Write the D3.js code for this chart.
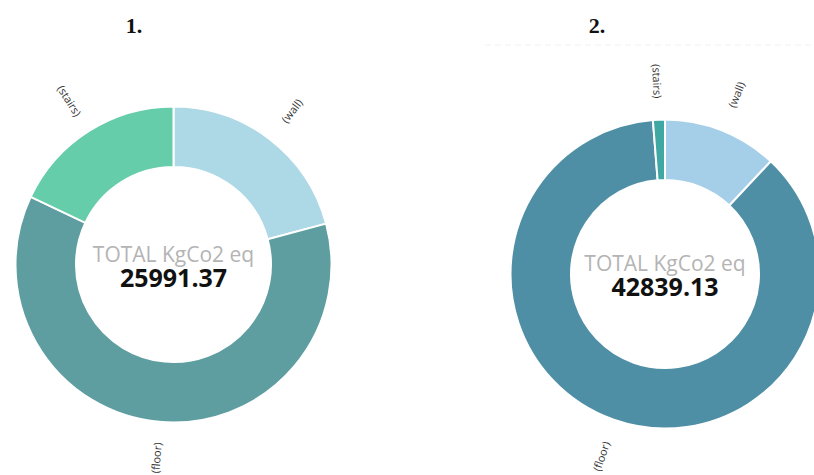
<!DOCTYPE html>
<html>
<head>
<meta charset="utf-8">
<script src="https://cdn.jsdelivr.net/npm/d3@7"></script>
<style>
  html, body { margin: 0; padding: 0; background: #fff; }
  svg { display: block; }
  .title { font-family: "Liberation Serif", "DejaVu Serif", serif; font-weight: bold; font-size: 22px; fill: #111; }
  .slice-label { font-family: "Open Sans", "DejaVu Sans", sans-serif; font-size: 11px; fill: #333; }
  .total-label { font-family: "Open Sans", sans-serif; font-size: 21px; fill: #b4b4b4; }
  .total-value { font-family: "Open Sans", sans-serif; font-weight: bold; font-size: 25px; fill: #111; }
</style>
</head>
<body>
<div id="chart"></div>
<script>
// data
const categories = ["wall", "floor", "stairs"];
const values1 = [5415.2, 15907.4, 4668.77];
const values2 = [5141.0, 37163.13, 535.0];
const totals = ["25991.37", "42839.13"];
const titles = ["1.", "2."];
const totalText = "TOTAL KgCo2 eq";

const colors1 = ["#add8e6", "#5f9ea0", "#66cdaa"];
const colors2 = ["#a5cfe8", "#4f8fa6", "#3fa8a2"];

const width = 814;
const height = 475;

const svg = d3.select("#chart").append("svg")
  .attr("width", width)
  .attr("height", height);

// faint screenshot panel line over chart 2
svg.append("line")
  .attr("x1", 485).attr("x2", width)
  .attr("y1", 45).attr("y2", 45)
  .attr("stroke", "#f1f1f1")
  .attr("stroke-dasharray", "6,4");

const charts = [
  { values: values1, colors: colors1, total: totals[0], title: titles[0],
    cx: 173.5, cy: 264.5, outer: 158, inner: 97.5, labelR: 194, titleX: 134 },
  { values: values2, colors: colors2, total: totals[1], title: titles[1],
    cx: 665, cy: 274, outer: 154.5, inner: 94, labelR: 193, titleX: 597 }
];

const pie = d3.pie().sort(null).value((d) => d);

charts.forEach((c) => {
  svg.append("text")
    .attr("class", "title")
    .attr("x", c.titleX)
    .attr("y", 33)
    .attr("text-anchor", "middle")
    .text(c.title);

  const g = svg.append("g").attr("transform", `translate(${c.cx},${c.cy})`);

  const arc = d3.arc().innerRadius(c.inner).outerRadius(c.outer);
  const labelArc = d3.arc().innerRadius(c.labelR).outerRadius(c.labelR);

  const arcs = pie(c.values);

  g.selectAll("path")
    .data(arcs)
    .enter()
    .append("path")
    .attr("d", arc)
    .attr("fill", (d, i) => c.colors[i])
    .attr("stroke", "#fff")
    .attr("stroke-width", 2);

  // rotated category labels
  g.selectAll(".slice-label")
    .data(arcs)
    .enter()
    .append("text")
    .attr("class", "slice-label")
    .attr("text-anchor", "middle")
    .attr("dominant-baseline", "central")
    .attr("transform", (d) => {
      const [x, y] = labelArc.centroid(d);
      const mid = ((d.startAngle + d.endAngle) / 2) * 180 / Math.PI;
      const rot = mid < 180 ? mid - 90 : mid + 90;
      return `translate(${x},${y}) rotate(${rot})`;
    })
    .text((d, i) => `(${categories[i]})`);

  g.append("text")
    .attr("class", "total-label")
    .attr("text-anchor", "middle")
    .attr("y", -3)
    .text(totalText);

  g.append("text")
    .attr("class", "total-value")
    .attr("text-anchor", "middle")
    .attr("y", 22)
    .text(c.total);
});
</script>
</body>
</html>
